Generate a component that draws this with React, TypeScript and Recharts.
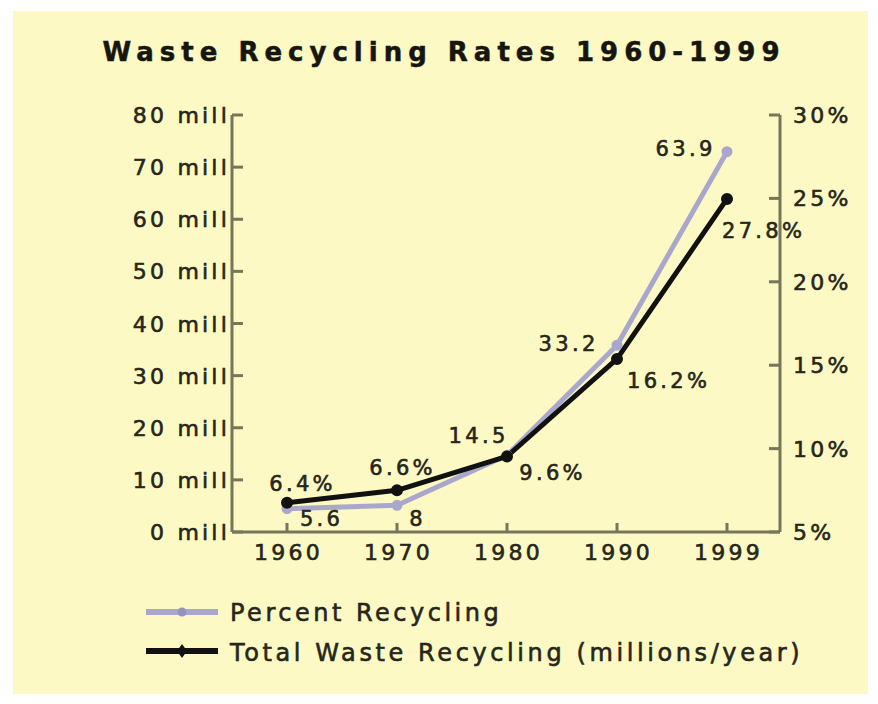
import { LineChart, Line, XAxis, YAxis, LabelList } from 'recharts'

const YEARS = ['1960', '1970', '1980', '1990', '1999']
const TOTAL_MILLIONS = [5.6, 8, 14.5, 33.2, 63.9]
const PERCENT_RECYCLED = [6.4, 6.6, 9.6, 16.2, 27.8]
const TOTAL_LABELS = ['5.6', '8', '14.5', '33.2', '63.9']
const PERCENT_LABELS = ['6.4%', '6.6%', '9.6%', '16.2%', '27.8%']
const LEFT_TICKS = [0, 10, 20, 30, 40, 50, 60, 70, 80]
const RIGHT_TICKS = [5, 10, 15, 20, 25, 30]

const TITLE = 'Waste Recycling Rates 1960-1999'
const PERCENT_NAME = 'Percent Recycling'
const TOTAL_NAME = 'Total Waste Recycling (millions/year)'

// label placement, relative to each point (the original puts them all over the place)
const TOTAL_OFFSETS = [[33, 15], [19, 28], [-30, -21], [-50, -16], [-43, -51]]
const PERCENT_OFFSETS = [[14, -26], [4, -38], [44, 17], [50, 35], [35, 78]]

const BG = '#fcf9c4'
const AXIS = '#76765a'
const INK = '#26261b'
const GRAY = '#a9a8cc'
const BLACK = '#111111'
const FONT = '"DejaVu Sans", Verdana, sans-serif'

const data = YEARS.map((year, i) => ({
  year,
  total: TOTAL_MILLIONS[i],
  percent: PERCENT_RECYCLED[i],
}))

// a thin stroke makes the text look heavier, closer to the old bitmap font
const textStyle = {
  fontFamily: FONT,
  fontSize: 22,
  letterSpacing: 3.2,
  fill: INK,
  stroke: INK,
  strokeWidth: 0.6,
}

function LeftTick({ x, y, payload }: any) {
  return (
    <g>
      <line x1={x + 2} x2={x + 13} y1={y} y2={y} stroke={AXIS} strokeWidth={3} />
      <text x={x} y={y} dy={8} textAnchor="end" style={textStyle}>
        {payload.value} mill
      </text>
    </g>
  )
}

function RightTick({ x, y, payload }: any) {
  return (
    <g>
      <line x1={x - 13} x2={x - 24} y1={y} y2={y} stroke={AXIS} strokeWidth={3} />
      <text x={x} y={y} dy={8} textAnchor="start" style={textStyle}>
        {payload.value}%
      </text>
    </g>
  )
}

function BottomTick({ x, y, payload }: any) {
  return (
    <g>
      <line x1={x} x2={x} y1={y - 6} y2={y - 15} stroke={AXIS} strokeWidth={3} />
      <text x={x + 1.5} y={y} dy={22} textAnchor="middle" style={textStyle}>
        {payload.value}
      </text>
    </g>
  )
}

function makeLabel(texts: string[], offsets: number[][]) {
  return (props: any) => {
    const { x, y, index } = props
    const [dx, dy] = offsets[index]
    return (
      <text
        x={x + dx + 1.6}
        y={y + dy + 8}
        textAnchor="middle"
        style={{ ...textStyle, fontSize: 21, letterSpacing: 3.3 }}
      >
        {texts[index]}
      </text>
    )
  }
}

export default function App() {
  return (
    <div style={{ position: 'absolute', left: 0, top: 0, width: 878, height: 704, background: '#fff' }}>
      <div style={{ position: 'absolute', left: 13, top: 11, width: 855, height: 683, background: BG }} />
      <div style={{ position: 'absolute', left: 0, top: 0 }}>
        <LineChart width={878} height={704} data={data} margin={{ top: 115, right: 8, bottom: 142, left: 132 }}>
          <XAxis
            dataKey="year"
            height={30}
            padding={{ left: 55, right: 53 }}
            axisLine={{ stroke: AXIS, strokeWidth: 3 }}
            tickLine={false}
            tickSize={0}
            tickMargin={6}
            tick={<BottomTick />}
            interval={0}
          />
          <YAxis
            yAxisId="left"
            width={100}
            domain={[0, 80]}
            ticks={LEFT_TICKS}
            axisLine={{ stroke: AXIS, strokeWidth: 3 }}
            tickLine={false}
            tickSize={0}
            tickMargin={2}
            tick={<LeftTick />}
            interval={0}
          />
          <YAxis
            yAxisId="right"
            orientation="right"
            width={90}
            domain={[5, 30]}
            ticks={RIGHT_TICKS}
            axisLine={{ stroke: AXIS, strokeWidth: 3 }}
            tickLine={false}
            tickSize={0}
            tickMargin={13}
            tick={<RightTick />}
            interval={0}
          />
          <Line
            yAxisId="right"
            dataKey="percent"
            name={PERCENT_NAME}
            stroke={GRAY}
            strokeWidth={5}
            strokeLinejoin="round"
            strokeLinecap="round"
            dot={{ r: 3, fill: GRAY, stroke: GRAY }}
            isAnimationActive={false}
          >
            <LabelList dataKey="percent" content={makeLabel(PERCENT_LABELS, PERCENT_OFFSETS)} />
          </Line>
          <Line
            yAxisId="left"
            dataKey="total"
            name={TOTAL_NAME}
            stroke={BLACK}
            strokeWidth={5}
            strokeLinejoin="round"
            strokeLinecap="round"
            dot={{ r: 3.5, fill: BLACK, stroke: BLACK }}
            isAnimationActive={false}
          >
            <LabelList dataKey="total" content={makeLabel(TOTAL_LABELS, TOTAL_OFFSETS)} />
          </Line>
        </LineChart>
      </div>
      <svg width={878} height={704} style={{ position: 'absolute', left: 0, top: 0, pointerEvents: 'none' }}>
        <text
          x={444}
          y={61}
          textAnchor="middle"
          style={{ fontFamily: FONT, fontSize: 26, fontWeight: 'bold', letterSpacing: 6, fill: '#16160f', stroke: '#16160f', strokeWidth: 0.5 }}
        >
          {TITLE}
        </text>
        <line x1={146} x2={218} y1={612} y2={612} stroke={GRAY} strokeWidth={6} />
        <circle cx={182} cy={612} r={4.5} fill="#9493bf" />
        <text x={230} y={621} style={{ ...textStyle, fontSize: 24, letterSpacing: 3.5 }}>
          {PERCENT_NAME}
        </text>
        <line x1={146} x2={218} y1={651} y2={651} stroke={BLACK} strokeWidth={6} />
        <path d="M182 644 L187 651 L182 658 L177 651 Z" fill={BLACK} />
        <text x={230} y={661} style={{ ...textStyle, fontSize: 24, letterSpacing: 3.6 }}>
          {TOTAL_NAME}
        </text>
      </svg>
    </div>
  )
}
